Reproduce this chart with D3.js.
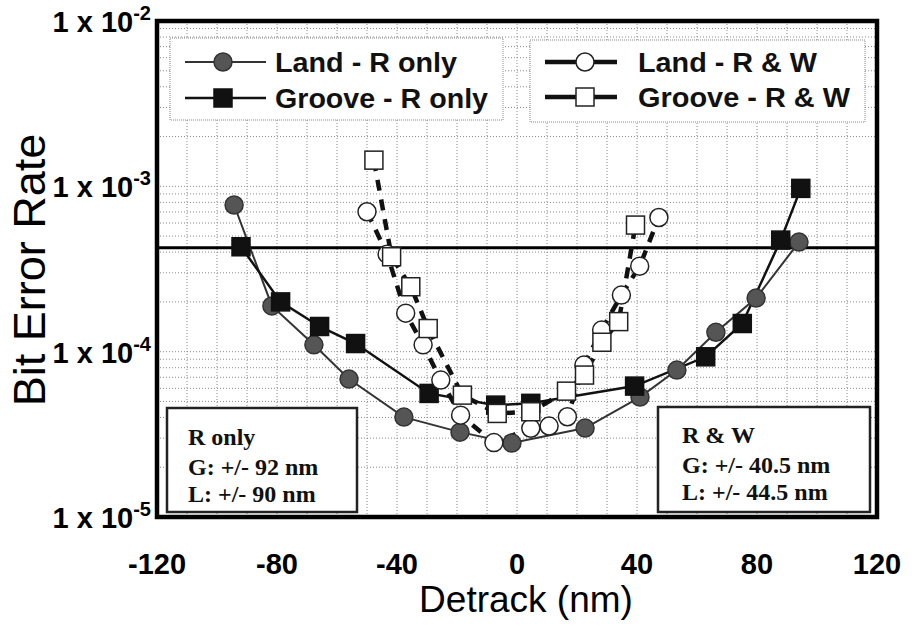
<!DOCTYPE html>
<html>
<head>
<meta charset="utf-8">
<script src="https://cdn.jsdelivr.net/npm/d3@7"></script>
<style>
  body { margin: 0; background: #fff; }
  svg { display: block; }
</style>
</head>
<body>
<div id="chart"></div>
<script>
// detrack (nm) and bit error rate
const landROnlyX = [-94.3, -81.7, -67.7, -56, -37.7, -19, -1.7, 22.7, 41, 53.3, 66.3, 79.7, 94];
const landROnlyBER = [7.71e-4, 1.89e-4, 1.10e-4, 6.83e-5, 4.02e-5, 3.26e-5, 2.80e-5, 3.45e-5, 5.31e-5, 7.74e-5, 1.31e-4, 2.11e-4, 4.60e-4];

const grooveROnlyX = [-92, -78.8, -65.8, -53.8, -29.3, -7.1, 4.6, 39.2, 62.9, 75.1, 87.9, 94.6];
const grooveROnlyBER = [4.31e-4, 2.00e-4, 1.42e-4, 1.12e-4, 5.59e-5, 4.75e-5, 4.87e-5, 6.19e-5, 9.31e-5, 1.48e-4, 4.73e-4, 9.72e-4];

const landRWX = [-50, -43.3, -37.1, -31.3, -25.4, -18.8, -7.7, 4.6, 10.7, 16.8, 22.3, 28.2, 34.8, 40.9, 47.3];
const landRWBER = [7.02e-4, 3.89e-4, 1.71e-4, 1.10e-4, 6.73e-5, 4.13e-5, 2.82e-5, 3.44e-5, 3.55e-5, 4.04e-5, 8.30e-5, 1.35e-4, 2.20e-4, 3.29e-4, 6.48e-4];

const grooveRWX = [-47.7, -41.8, -35.4, -29.6, -18.2, -6.6, 4.6, 16.5, 22.5, 28.3, 33.9, 39.5];
const grooveRWBER = [1.44e-3, 3.75e-4, 2.47e-4, 1.38e-4, 5.46e-5, 4.23e-5, 4.33e-5, 5.77e-5, 7.22e-5, 1.14e-4, 1.52e-4, 5.83e-4];

const threshold = 4.25e-4;

const xTicks = [-120, -80, -40, 0, 40, 80, 120];
const yTicks = [1e-5, 1e-4, 1e-3, 1e-2];
const yTickExp = ["-5", "-4", "-3", "-2"];

const legendLabels = ["Land - R only", "Groove - R only", "Land - R & W", "Groove - R & W"];
const rOnlyBox = ["R only", "G: +/- 92 nm", "L: +/- 90 nm"];
const rwBox = ["R & W", "G: +/- 40.5 nm", "L: +/- 44.5 nm"];

const width = 912;
const height = 631;
const plot = { left: 157, right: 877, top: 21, bottom: 517 };

const svg = d3.select("#chart").append("svg")
  .attr("width", width)
  .attr("height", height);

const x = d3.scaleLinear().domain([-120, 120]).range([plot.left, plot.right]);
const y = d3.scaleLog().domain([1e-5, 1e-2]).range([plot.bottom, plot.top]);

const sans = "'Liberation Sans', Arial, sans-serif";
const serif = "'Liberation Serif', 'Times New Roman', serif";

// grid
const grid = svg.append("g");
grid.selectAll("line.vg")
  .data(d3.range(-110, 120, 10))
  .join("line")
  .attr("x1", d => x(d)).attr("x2", d => x(d))
  .attr("y1", plot.top).attr("y2", plot.bottom)
  .attr("stroke", "#8a8a8a").attr("stroke-width", 1)
  .attr("stroke-dasharray", "1,2");

const minor = [];
[1e-5, 1e-4, 1e-3].forEach(dec => {
  for (let k = 1; k <= 9; k++) minor.push(dec * k);
});
grid.selectAll("line.hg")
  .data(minor.filter(v => v > 1e-5))
  .join("line")
  .attr("x1", plot.left).attr("x2", plot.right)
  .attr("y1", d => y(d)).attr("y2", d => y(d))
  .attr("stroke", "#8a8a8a").attr("stroke-width", 1)
  .attr("stroke-dasharray", "1,2");

// threshold line
svg.append("line")
  .attr("x1", plot.left).attr("x2", plot.right)
  .attr("y1", y(threshold)).attr("y2", y(threshold))
  .attr("stroke", "#000").attr("stroke-width", 3);

// note boxes
function noteBox(bx, by, bw, bh, lines, tx, baselines) {
  svg.append("rect")
    .attr("x", bx).attr("y", by).attr("width", bw).attr("height", bh)
    .attr("fill", "#fff").attr("stroke", "#222").attr("stroke-width", 2.5);
  lines.forEach((t, i) => {
    svg.append("text")
      .attr("x", tx).attr("y", baselines[i])
      .attr("font-family", serif).attr("font-weight", "bold")
      .attr("font-size", 24).attr("fill", "#111")
      .text(t);
  });
}
noteBox(167, 408, 190, 104, rOnlyBox, 188, [445, 475, 502]);
noteBox(658, 407, 212, 105, rwBox, 682, [443, 473, 500]);

// series
const series = [
  { xs: landROnlyX, ys: landROnlyBER, marker: "circle", fill: "#555", stroke: "#333", lw: 2, line: "#333", dash: null },
  { xs: grooveROnlyX, ys: grooveROnlyBER, marker: "square", fill: "#111", stroke: "#111", lw: 2.5, line: "#111", dash: null },
  { xs: landRWX, ys: landRWBER, marker: "circle", fill: "#fff", stroke: "#222", lw: 4.5, line: "#111", dash: "11,9" },
  { xs: grooveRWX, ys: grooveRWBER, marker: "square", fill: "#fff", stroke: "#222", lw: 4.5, line: "#111", dash: "11,9" }
];

const line = d3.line().x(d => x(d[0])).y(d => y(d[1]));

series.forEach(s => {
  const pts = s.xs.map((v, i) => [v, s.ys[i]]);
  svg.append("path")
    .datum(pts)
    .attr("d", line)
    .attr("fill", "none")
    .attr("stroke", s.line)
    .attr("stroke-width", s.lw)
    .attr("stroke-dasharray", s.dash);
});

function drawMarker(g, s, cx, cy) {
  if (s.marker === "circle") {
    g.append("circle").attr("cx", cx).attr("cy", cy).attr("r", 9)
      .attr("fill", s.fill).attr("stroke", s.stroke).attr("stroke-width", 1.5);
  } else {
    g.append("rect").attr("x", cx - 9).attr("y", cy - 9)
      .attr("width", 18).attr("height", 18)
      .attr("fill", s.fill).attr("stroke", s.stroke).attr("stroke-width", 1.5);
  }
}

series.forEach(s => {
  const g = svg.append("g");
  s.xs.forEach((v, i) => drawMarker(g, s, x(v), y(s.ys[i])));
});

// legends
function legendBox(bx, by, bw, bh) {
  svg.append("rect")
    .attr("x", bx).attr("y", by).attr("width", bw).attr("height", bh)
    .attr("fill", "#fff").attr("stroke", "#888").attr("stroke-width", 1)
    .attr("stroke-dasharray", "1,1");
}
legendBox(170, 38, 333, 82);
legendBox(530, 40, 335, 82);

const legendRows = [
  { s: series[0], x1: 185, x2: 266, mx: 223, yy: 62, tx: 275, label: legendLabels[0], tl: 182 },
  { s: series[1], x1: 185, x2: 266, mx: 223, yy: 98, tx: 275, label: legendLabels[1], tl: 213 },
  { s: series[2], x1: 545, x2: 617, mx: 585, yy: 62, tx: 638, label: legendLabels[2], tl: 179 },
  { s: series[3], x1: 545, x2: 617, mx: 585, yy: 97, tx: 638, label: legendLabels[3], tl: 212 }
];
const lg = svg.append("g");
legendRows.forEach(r => {
  lg.append("line")
    .attr("x1", r.x1).attr("x2", r.x2).attr("y1", r.yy).attr("y2", r.yy)
    .attr("stroke", r.s.line).attr("stroke-width", r.s.lw);
  drawMarker(lg, r.s, r.mx, r.yy);
  lg.append("text")
    .attr("x", r.tx).attr("y", r.yy + 10)
    .attr("font-family", sans).attr("font-weight", "bold")
    .attr("font-size", 27).attr("fill", "#111")
    .attr("textLength", r.tl).attr("lengthAdjust", "spacingAndGlyphs")
    .text(r.label);
});

// frame
svg.append("rect")
  .attr("x", plot.left).attr("y", plot.top)
  .attr("width", plot.right - plot.left).attr("height", plot.bottom - plot.top)
  .attr("fill", "none").attr("stroke", "#000").attr("stroke-width", 4.5);

// x tick labels
svg.append("g").selectAll("text")
  .data(xTicks)
  .join("text")
  .attr("x", d => x(d)).attr("y", 574)
  .attr("text-anchor", "middle")
  .attr("font-family", sans).attr("font-weight", "bold")
  .attr("font-size", 29).attr("fill", "#000")
  .text(d => d);

// y tick labels
const yl = svg.append("g");
yTicks.forEach((v, i) => {
  const t = yl.append("text")
    .attr("x", 151).attr("y", y(v) + 11)
    .attr("text-anchor", "end")
    .attr("font-family", sans).attr("font-weight", "bold")
    .attr("font-size", 29).attr("fill", "#000");
  t.append("tspan").text("1 x 10");
  t.append("tspan").attr("dy", -12).attr("font-size", 20).text(yTickExp[i]);
});

// axis titles
svg.append("text")
  .attr("x", 526).attr("y", 612)
  .attr("text-anchor", "middle")
  .attr("font-family", sans).attr("font-size", 37).attr("fill", "#000")
  .text("Detrack (nm)");

svg.append("text")
  .attr("transform", "translate(45,270) rotate(-90)")
  .attr("text-anchor", "middle")
  .attr("font-family", sans).attr("font-size", 45).attr("fill", "#000")
  .text("Bit Error Rate");
</script>
</body>
</html>
